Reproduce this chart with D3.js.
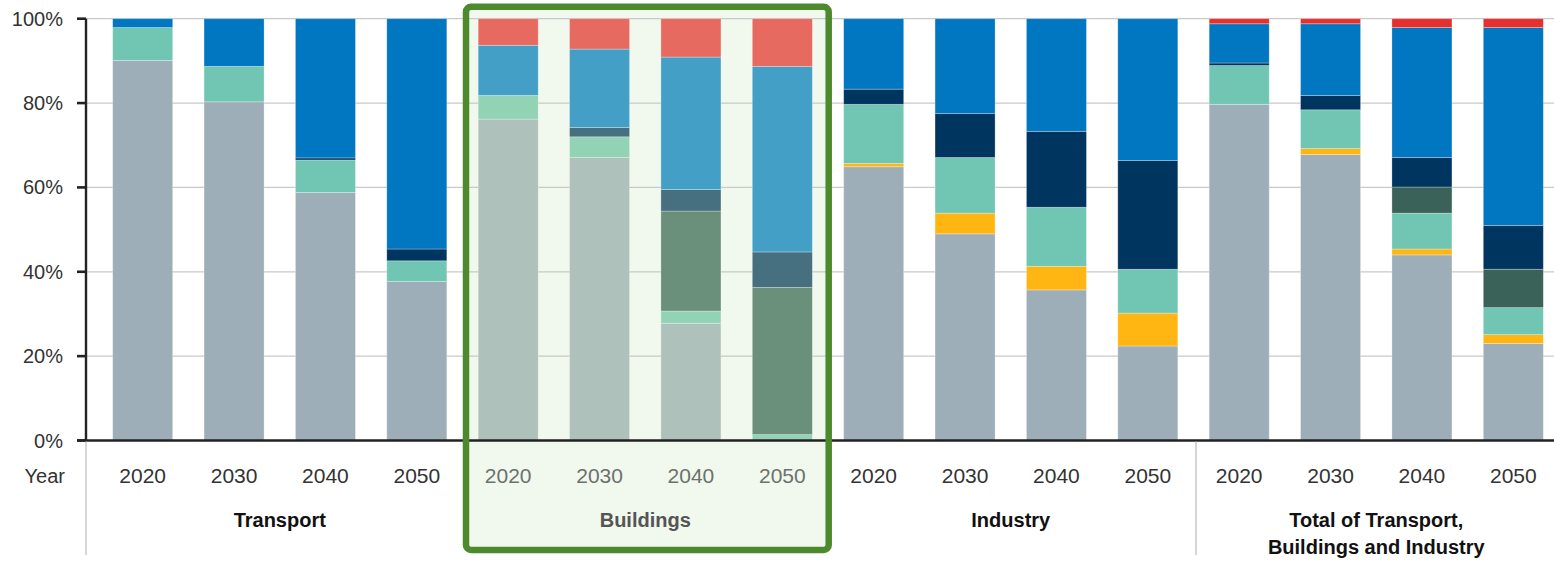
<!DOCTYPE html>
<html>
<head>
<meta charset="utf-8">
<script src="https://cdn.jsdelivr.net/npm/d3@7"></script>
<style>
  html, body { margin: 0; padding: 0; background: #ffffff; }
  svg { display: block; font-family: "Liberation Sans", Arial, sans-serif; }
</style>
</head>
<body>
<svg id="chart" width="1554" height="562"></svg>
<script>
// ---------- DATA ----------
const groups = ["Transport", "Buildings", "Industry", "Total of Transport, Buildings and Industry"];
const years = ["2020", "2030", "2040", "2050"];
const highlightGroup = "Buildings";
const yTicks = [0, 20, 40, 60, 80, 100];

// series, bottom to top; 16 values: each group x 4 years
const seriesKeys = ["s1", "s2", "s3", "s4", "s5", "s6", "s7"];
const s1 = [90.1, 80.3, 58.8, 37.7, 76.2, 67.1, 27.8, 0.0, 64.9, 49.0, 35.7, 22.4, 79.7, 67.8, 44.0, 23.0];
const s2 = [0, 0, 0, 0, 0, 0, 0, 0, 0.8, 4.9, 5.6, 7.8, 0, 1.4, 1.4, 2.1];
const s3 = [7.8, 8.4, 7.7, 4.9, 5.6, 4.9, 2.9, 1.4, 14.0, 13.2, 14.0, 10.4, 9.2, 9.2, 8.5, 6.4];
const s4 = [0, 0, 0, 0, 0, 0, 23.7, 34.9, 0, 0, 0, 0, 0, 0, 6.2, 9.1];
const s5 = [0, 0, 0.5, 2.8, 0, 2.2, 5.1, 8.4, 3.6, 10.4, 18.0, 25.8, 0.6, 3.4, 7.0, 10.4];
const s6 = [2.1, 11.3, 33.0, 54.6, 11.9, 18.6, 31.4, 44.0, 16.7, 22.5, 26.7, 33.6, 9.3, 17.0, 30.8, 46.9];
const s7 = [0, 0, 0, 0, 6.3, 7.2, 9.1, 11.3, 0, 0, 0, 0, 1.2, 1.2, 2.1, 2.1];
const seriesValues = [s1, s2, s3, s4, s5, s6, s7];

// ---------- STYLE ----------
const colors = {s1: "#9eaeb8", s2: "#ffb612", s3: "#70c6b2", s4: "#3b6259", s5: "#003560", s6: "#0077c0", s7: "#e4312f"};
const colorsHi = {s1: "#aec1bb", s2: "#ffd27a", s3: "#92d3b6", s4: "#6a8f7b", s5: "#466f80", s6: "#449fc6", s7: "#e66a60"};

// ---------- BUILD TABLE ----------
const rows = [];
groups.forEach((g, gi) => years.forEach((yr, yi) => {
  const idx = gi * 4 + yi;
  const r = {id: idx, group: g, year: yr};
  seriesKeys.forEach((k, ki) => r[k] = seriesValues[ki][idx]);
  rows.push(r);
}));

const svg = d3.select("#chart");
const W = 1554;
const yTop = 18.7, yBot = 440.5, xAxis = 86;

const x = d3.scaleBand()
  .domain(rows.map(d => d.id))
  .range([97, 1559])
  .paddingInner(0.343)
  .paddingOuter(0.1715);
const y = d3.scaleLinear().domain([0, 100]).range([yBot, yTop]);

// Highlight box fill
const hiIdx = rows.filter(d => d.group === highlightGroup).map(d => d.id);
const boxX0 = 466, boxX1 = 828.7, boxY0 = 6.8, boxY1 = 550;
svg.append("rect")
  .attr("x", boxX0).attr("y", boxY0)
  .attr("width", boxX1 - boxX0).attr("height", boxY1 - boxY0)
  .attr("rx", 5)
  .attr("fill", "#f1f8ee");

// gridlines
svg.append("g")
  .selectAll("line")
  .data(yTicks.filter(t => t > 0))
  .join("line")
  .attr("x1", xAxis).attr("x2", W)
  .attr("y1", d => y(d)).attr("y2", d => y(d))
  .attr("stroke", "#c9c9c9").attr("stroke-width", 1.2);

// bars
const stack = d3.stack().keys(seriesKeys);
const stacked = stack(rows);
svg.append("g")
  .selectAll("g")
  .data(stacked)
  .join("g")
  .each(function (layer) {
    d3.select(this).selectAll("rect")
      .data(layer.filter(d => d[1] - d[0] > 0))
      .join("rect")
      .attr("x", d => x(d.data.id))
      .attr("width", x.bandwidth())
      .attr("y", d => y(d[1]))
      .attr("height", d => y(d[0]) - y(d[1]))
      .attr("fill", d => (d.data.group === highlightGroup ? colorsHi : colors)[layer.key])
      .attr("stroke", "rgba(255,255,255,0.35)")
      .attr("stroke-width", 0.8);
  });

// y axis
const yAxisG = svg.append("g").attr("transform", `translate(${xAxis},0)`);
yAxisG.append("line")
  .attr("x1", 0).attr("x2", 0).attr("y1", yTop).attr("y2", yBot)
  .attr("stroke", "#222").attr("stroke-width", 2.4);
yAxisG.selectAll("line.tick")
  .data(yTicks)
  .join("line")
  .attr("class", "tick")
  .attr("x1", -9).attr("x2", 0)
  .attr("y1", d => y(d)).attr("y2", d => y(d))
  .attr("stroke", "#222").attr("stroke-width", 2.6);
yAxisG.selectAll("text")
  .data(yTicks)
  .join("text")
  .attr("x", -23)
  .attr("y", d => y(d) + 7)
  .attr("text-anchor", "end")
  .attr("font-size", 20)
  .attr("fill", "#333")
  .text(d => d + "%");

// baseline
svg.append("line")
  .attr("x1", 77).attr("x2", W)
  .attr("y1", yBot).attr("y2", yBot)
  .attr("stroke", "#222").attr("stroke-width", 2.4);

// separators
[xAxis, 1196].forEach(sx => {
  svg.append("line")
    .attr("x1", sx).attr("x2", sx)
    .attr("y1", yBot + 1).attr("y2", 555)
    .attr("stroke", "#bdbdbd").attr("stroke-width", 1.2);
});

// Year labels
svg.append("text")
  .attr("x", 65).attr("y", 483)
  .attr("text-anchor", "end")
  .attr("font-size", 20)
  .attr("fill", "#333")
  .text("Year");

svg.append("g")
  .selectAll("text")
  .data(rows)
  .join("text")
  .attr("x", d => x(d.id) + x.bandwidth() / 2)
  .attr("y", 483)
  .attr("text-anchor", "middle")
  .attr("font-size", 21)
  .attr("fill", d => d.group === highlightGroup ? "#6d716d" : "#333")
  .text(d => d.year);

// group labels
const groupLabelLines = {
  "Transport": ["Transport"],
  "Buildings": ["Buildings"],
  "Industry": ["Industry"],
  "Total of Transport, Buildings and Industry": ["Total of Transport,", "Buildings and Industry"]
};
groups.forEach((g, gi) => {
  const ids = rows.filter(d => d.group === g).map(d => d.id);
  const cx = (x(ids[0]) + x(ids[ids.length - 1]) + x.bandwidth()) / 2;
  const t = svg.append("text")
    .attr("text-anchor", "middle")
    .attr("font-size", 20)
    .attr("font-weight", "bold")
    .attr("fill", g === highlightGroup ? "#555" : "#111");
  groupLabelLines[g].forEach((line, li) => {
    t.append("tspan").attr("x", cx).attr("y", 527 + li * 27).text(line);
  });
});

// Highlight box border
svg.append("rect")
  .attr("x", boxX0).attr("y", boxY0)
  .attr("width", boxX1 - boxX0).attr("height", boxY1 - boxY0)
  .attr("rx", 5)
  .attr("fill", "none")
  .attr("stroke", "#4c8a2d")
  .attr("stroke-width", 6.5);
</script>
</body>
</html>
